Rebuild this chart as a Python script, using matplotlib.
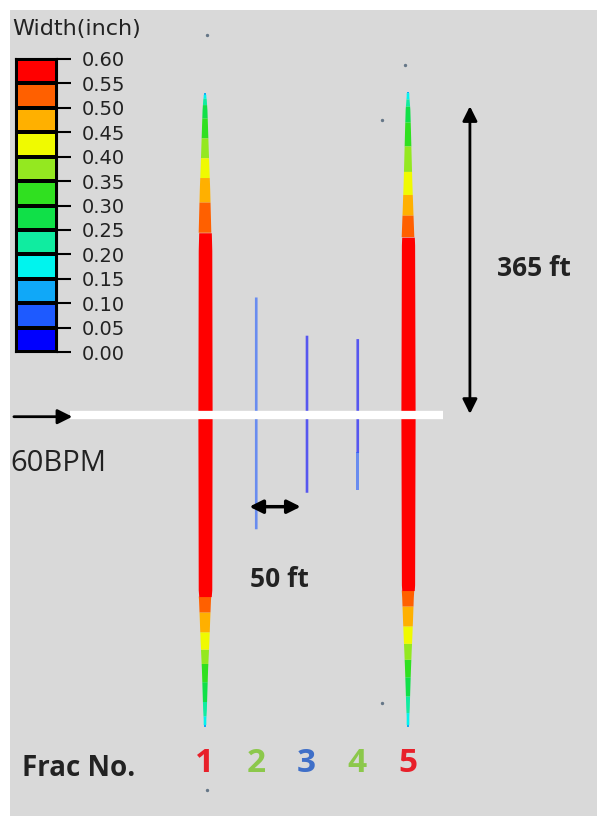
import numpy as np
import matplotlib.pyplot as plt
from matplotlib.colors import ListedColormap, BoundaryNorm

# ---- data ----
levels = [0.00, 0.05, 0.10, 0.15, 0.20, 0.25, 0.30, 0.35, 0.40, 0.45, 0.50, 0.55, 0.60]
level_colors = ['#0000ff', '#1e5aff', '#10a8f8', '#00f4ee', '#10eca0', '#10e048',
                '#30e020', '#94e820', '#f0fa00', '#ffb000', '#ff6000', '#ff0000']

frac_no = ['1', '2', '3', '4', '5']
frac_pos = [0, 50, 100, 150, 200]                # ft along the well
frac_label_colors = ['#e8202a', '#8cc84b', '#3f6fc8', '#8cc84b', '#e8202a']

# height (ft, + up from well) and width (inch) profiles
h1 = [379, 371, 359, 336, 312, 289, 265, 230, 194, 0, -206, -218, -241, -265, -283, -300, -324, -347, -359, -367]
w1 = [0.14, 0.22, 0.28, 0.33, 0.38, 0.43, 0.48, 0.53, 0.58, 0.60, 0.58, 0.53, 0.48, 0.43, 0.38, 0.33, 0.28, 0.23, 0.18, 0.14]
h2 = [139, 0, -134]
w2 = [0.07, 0.07, 0.07]
h3 = [94, 0, -91]
w3 = [0.03, 0.03, 0.03]
h4 = [90, 0, -88]
w4 = [0.03, 0.04, 0.06]
h5 = [381, 372, 360, 335, 305, 275, 250, 225, 200, 0, -200, -215, -240, -262, -280, -300, -322, -345, -358, -368]
w5 = [0.14, 0.20, 0.27, 0.32, 0.37, 0.42, 0.47, 0.52, 0.57, 0.60, 0.57, 0.52, 0.47, 0.42, 0.37, 0.32, 0.27, 0.22, 0.17, 0.14]

profiles = [(h1, w1), (h2, w2), (h3, w3), (h4, w4), (h5, w5)]

half_length = 365     # ft
spacing = 50          # ft
rate_label = '60BPM'

# specks seen in the picture (ft)
speck_x = [2, 197, 174, 174, 2]
speck_y = [448, 412, 347, -339, -442]

cmap = ListedColormap(level_colors)
norm = BoundaryNorm(levels, cmap.N)

W, H = 597, 816
fig = plt.figure(figsize=(W / 100, H / 100), dpi=100)
fig.patch.set_facecolor('white')

# main panel (gray), x: ft, y: ft
ax = fig.add_axes([10 / W, 0, (W - 10) / W, (H - 10) / H])
x0, px_x = 205, 1.015
px_y = 0.849
ax.set_xlim((10 - x0) / px_x, (W - x0) / px_x)
ax.set_ylim((415 - H) / px_y, (415 - 10) / px_y)
ax.axis('off')
ax.add_patch(plt.Rectangle((0, 0), 1, 1, transform=ax.transAxes, color='#d9d9d9', zorder=0))

for xc, (hh, ww) in zip(frac_pos, profiles):
    hh = np.array(hh, float)
    ww = np.array(ww, float)
    order = np.argsort(hh)
    hf = np.linspace(hh.min(), hh.max(), 800)
    wf = np.interp(hf, hh[order], ww[order])
    thick = np.maximum(14.0 * (wf / 0.6) ** 1.4, 2.6)   # drawn thickness, ft
    thin = ww.max() < 0.1
    idx = np.clip(np.digitize(wf, levels) - 1, 0, len(level_colors) - 1)
    for k in np.unique(idx):
        m = idx == k
        # extend mask by one sample so adjacent bands touch
        m = m | np.r_[m[1:], False]
        ax.fill_betweenx(hf, xc - thick / 2, xc + thick / 2, where=m,
                         color=level_colors[k], lw=0,
                         alpha=0.6 if thin else 1.0, zorder=2)

ax.scatter(speck_x, speck_y, s=2, color='#667788', zorder=2)

# wellbore (white line) and injection arrow
ax.plot([-133, 234], [0, 0], color='white', lw=6, solid_capstyle='butt', zorder=3)
ax.annotate('', xy=(-128, -2), xytext=(-191, -2),
            arrowprops=dict(arrowstyle='-|>', color='black', lw=2,
                            mutation_scale=22), zorder=4)
ax.text(-192, -57, rate_label, fontsize=21, family='Open Sans', color='#222222',
        va='center', ha='left')

# half-length arrow
ax.annotate('', xy=(261, half_length + 2), xytext=(261, -2),
            arrowprops=dict(arrowstyle='<|-|>', color='black', lw=2,
                            mutation_scale=22), zorder=4)
ax.text(288, 173, f'{half_length} ft', fontsize=19, fontweight='bold',
        family='Open Sans', color='#222222', va='center', ha='left')

# spacing arrow
ax.annotate('', xy=(97, -108), xytext=(41, -108),
            arrowprops=dict(arrowstyle='<|-|>', color='black', lw=2.5,
                            mutation_scale=20), zorder=4)
ax.text(44, -194, f'{spacing} ft', fontsize=19, fontweight='bold',
        family='Open Sans', color='#222222', va='center', ha='left')

# frac numbers
ax.text(-180, -416, 'Frac No.', fontsize=20, fontweight='bold',
        family='Open Sans', color='#222222', va='center', ha='left')
for xc, lab, c in zip(frac_pos, frac_no, frac_label_colors):
    ax.text(xc, -410, lab, fontsize=24, fontweight='bold', color=c,
            family='Open Sans', va='center', ha='center')

# colour legend
cax = fig.add_axes([16 / W, (H - 352) / H, 41 / W, 293 / H])
cax.pcolormesh([0, 1], levels, np.array(levels[:-1])[:, None] + 0.025,
               cmap=cmap, norm=norm, edgecolors='black', linewidth=1.5)
cax.set_xlim(0, 1)
cax.set_ylim(levels[0], levels[-1])
cax.set_xticks([])
cax.yaxis.tick_right()
cax.set_yticks(levels)
cax.set_yticklabels([f'{v:.2f}' for v in levels], fontsize=14, color='#222222')
cax.tick_params(axis='y', length=10, width=1.5, pad=8)
for s in cax.spines.values():
    s.set_linewidth(1.5)
fig.text(12 / W, 1 - 29 / H, 'Width(inch)', fontsize=16, color='#222222',
         va='center', ha='left')

fig.savefig('out.png', dpi=100)
